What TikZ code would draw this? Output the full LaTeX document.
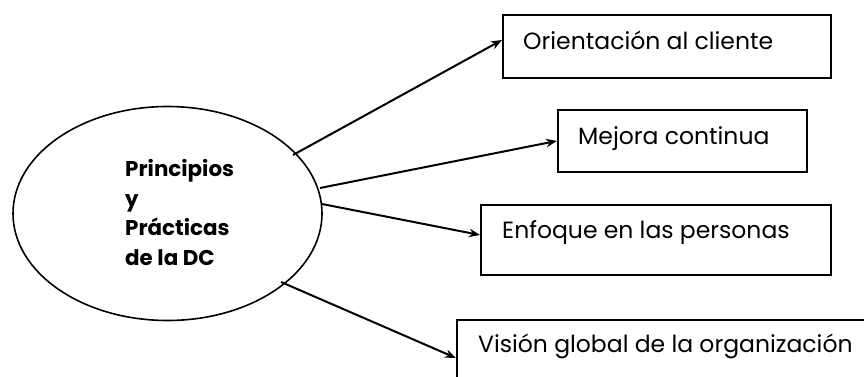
\documentclass[tikz,border=0pt]{standalone}
\usepackage{fontspec}
\setmainfont{Poppins}
\usetikzlibrary{arrows.meta,shapes.geometric}
\begin{document}
\begin{tikzpicture}[x=1pt,y=-1pt,
  frame/.style={draw, rectangle, line width=1.8pt, inner sep=0pt, anchor=north west},
  caption/.style={anchor=base west, inner sep=0pt, font=\fontsize{23.5}{28}\selectfont},
  link/.style={line width=2pt, -{Stealth[length=11pt,width=8.5pt]}}]
\clip (0,0) rectangle (864,377);

% central idea
\node[draw, ellipse, line width=1.6pt, inner sep=0pt,
      minimum width=309pt, minimum height=214pt] (hub) at (167.5,213.5) {};
\node[anchor=north west, inner sep=0pt, align=left,
      font=\bfseries\fontsize{21.4}{29.7}\selectfont] (title) at (125,159)
      {Principios\\y\\Prácticas\\de la DC};

% principle boxes
\node[frame, minimum width=328pt, minimum height=63pt] (b1) at (502,14) {};
\node[frame, minimum width=249pt, minimum height=62pt] (b2) at (557,109) {};
\node[frame, minimum width=350pt, minimum height=70pt] (b3) at (480,204) {};
\node[frame, minimum width=430pt, minimum height=80pt] (b4) at (456,319) {};

\node[caption] (t1) at (523,50) {Orientación al cliente};
\node[caption] (t2) at (578,144) {Mejora continua};
\node[caption] (t3) at (502,238) {Enfoque en las personas};
\node[caption] (t4) at (478,352) {Visión global de la organización};

% arrow tails near the ellipse
\coordinate (s1) at (293,155);
\coordinate (s2) at (320,188);
\coordinate (s3) at (322,204);
\coordinate (s4) at (281,282);

\draw[link] (s1) -- (b1.west |- 0,40);
\draw[link] (s2) -- (b2.west);
\draw[link] (s3) -- (b3.west |- 0,235);
\draw[link] (s4) -- (b4.west |- 0,358);
\end{tikzpicture}
\end{document}
